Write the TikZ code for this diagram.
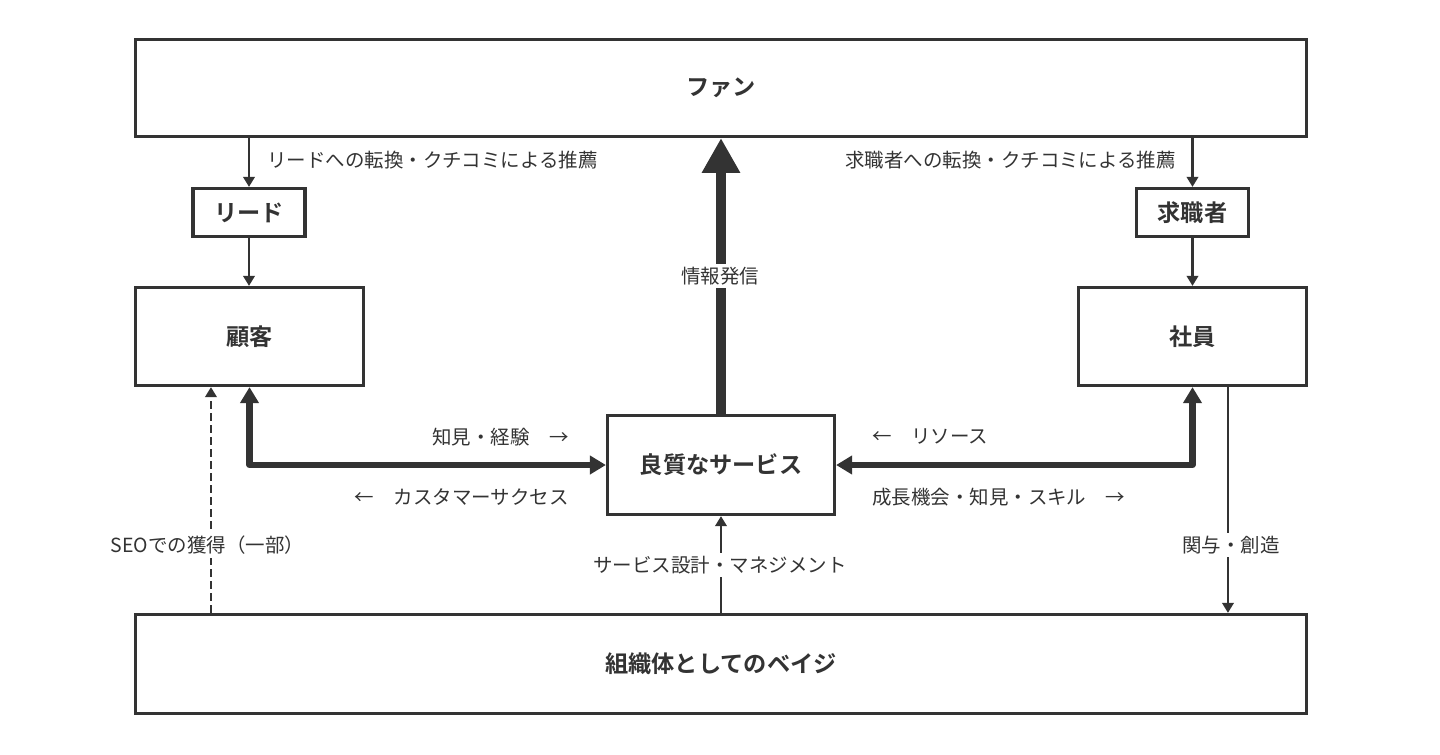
\documentclass[tikz,border=0pt]{standalone}
\usepackage{fontspec}
\setmainfont{Noto Sans CJK JP}[BoldFont={Noto Sans CJK JP Bold}]
\usetikzlibrary{arrows.meta,calc}
\definecolor{ink}{HTML}{333333}
\begin{document}
\begin{tikzpicture}[x=0.75pt,y=-0.75pt,
  every node/.style={text=ink},
  box/.style={draw=ink,line width=2.4pt,fill=white,font=\bfseries\fontsize{17.4pt}{20pt}\selectfont,inner sep=0pt},
  lbl/.style={font=\fontsize{14.6pt}{17pt}\selectfont,inner sep=0pt},
  lblw/.style={lbl,fill=white,inner sep=2.5pt},
  thinarrow/.style={draw=ink,line width=2.1pt,-{Triangle[length=7.5pt,width=8.5pt]}},
  dasharrow/.style={thinarrow,dash pattern=on 6pt off 3pt},
  midarrow/.style={draw=ink,line width=4.8pt,line join=round,{Triangle[length=12pt,width=13.5pt]}-{Triangle[length=12pt,width=13.5pt]}},
  bigarrow/.style={draw=ink,line width=7.5pt,-{Triangle[length=26pt,width=27pt]}}
]
\useasboundingbox (0,0) rectangle (1440,754);
% boxes
\node[box,minimum width=878.25pt,minimum height=72.75pt] (fan) at (721,88) {ファン};
\node[box,minimum width=84pt,minimum height=36pt] (lead) at (249,212.5) {リード};
\node[box,minimum width=171pt,minimum height=73.5pt] (kokyaku) at (249.5,336.5) {顧客};
\node[box,minimum width=84pt,minimum height=36pt] (kyushoku) at (1192.5,212.5) {求職者};
\node[box,minimum width=171pt,minimum height=73.5pt] (shain) at (1192.5,336.5) {社員};
\node[box,minimum width=170.25pt,minimum height=74.25pt] (service) at (721,465) {良質なサービス};
\node[box,minimum width=878.25pt,minimum height=74.25pt] (org) at (721,664) {組織体としてのベイジ};
% helper coordinates
\coordinate (shainA) at ([xshift=26.6pt]shain.south);
\coordinate (orgA) at (shainA |- org.north);
\coordinate (kokA) at ([xshift=-28.9pt]kokyaku.south);
\coordinate (orgB) at (kokA |- org.north);
% connectors
\draw[thinarrow] (fan.south -| lead) -- (lead.north);
\draw[thinarrow] (lead.south) -- (lead.south |- kokyaku.north);
\draw[thinarrow] (fan.south -| kyushoku) -- (kyushoku.north);
\draw[thinarrow] (kyushoku.south) -- (kyushoku.south |- shain.north);
\draw[bigarrow] (service.north) -- (fan.south -| service);
\draw[midarrow] (kokyaku.south) |- (service.west);
\draw[midarrow] (shain.south) |- (service.east);
\draw[thinarrow] (shainA) -- (orgA);
\draw[thinarrow] (org.north -| service) -- (service.south);
\draw[dasharrow] (orgB) -- (kokA);
% labels
\node[lbl,anchor=west] (l1) at (267,160) {リードへの転換・クチコミによる推薦};
\node[lbl,anchor=east] (l2) at (1176,160) {求職者への転換・クチコミによる推薦};
\node[lblw] (l3) at (720,276) {情報発信};
\node[lbl,anchor=east] (l4) at (569,437) {知見・経験　→};
\node[lbl,anchor=east] (l5) at (569,497) {←　カスタマーサクセス};
\node[lbl,anchor=west] (l6) at (872,437) {←　リソース};
\node[lbl,anchor=west] (l7) at (872,497) {成長機会・知見・スキル　→};
\node[lblw] (l8) at (207.5,545) {SEOでの獲得（一部）};
\node[lblw] (l9) at (720,565) {サービス設計・マネジメント};
\node[lblw] (l10) at (1231,545) {関与・創造};
\end{tikzpicture}
\end{document}
